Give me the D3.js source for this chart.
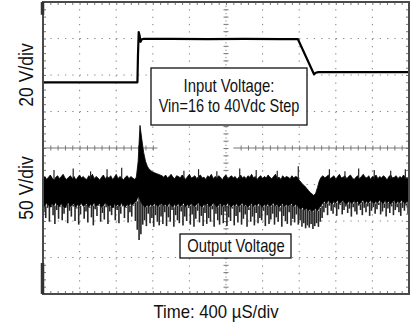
<!DOCTYPE html>
<html>
<head>
<meta charset="utf-8">
<script src="https://cdn.jsdelivr.net/npm/d3@7"></script>
<style>
  body { margin: 0; background: #fff; }
  svg { display: block; }
  text { font-family: "Liberation Sans", Arial, sans-serif; fill: #111; }
</style>
</head>
<body>
<svg id="scope" width="416" height="330"></svg>
<script>
// Sweep: 10 divisions at 400 µs/div
const timeMajor = d3.range(0, 4001, 400);
const timeMinor = d3.range(0, 4001, 80);
// Vertical graticule in divisions (8 divisions)
const divMajor = d3.range(-4, 4.001, 1);
const divMinor = d3.range(-4, 4.001, 0.2);

// Channel 1: input voltage step (µs, V) at 20 V/div
const inTime = [0, 1032, 1038, 1046, 1056, 1066, 1080, 1100, 1400, 1800, 2200, 2600, 2785, 2962, 2980, 3010, 3200, 3600, 4000];
const inVolt = [16, 16, 31, 43.5, 41.5, 38.2, 39.6, 39.8, 39.8, 39.7, 39.8, 39.7, 39.7, 20.4, 21.2, 21.6, 21.6, 21.6, 21.6];

// Channel 2: output voltage (50 V/div), dense trace envelope sampled every 20 µs
const outStep = 20;
const outHigh = [
  158,161,157,160,163,159,156,160,162,158,
  161,164,159,157,160,162,158,161,156,160,
  163,159,161,158,157,162,160,164,158,161,
  159,156,160,163,158,161,159,162,157,160,
  164,158,161,159,156,160,162,158,161,159,
  157,160,
  182,231,212,194,182,175,171,169,167,166,165,164,163,
  162,160,163,159,161,164,160,158,162,161,
  159,163,160,157,161,164,159,160,162,158,
  161,163,159,160,157,162,160,164,158,161,
  159,162,160,156,161,163,158,160,162,159,
  161,157,160,163,159,161,158,162,160,164,
  159,161,157,160,162,158,161,159,163,160,
  158,161,164,159,160,157,162,159,161,160,
  158,162,159,161,
  160,156,153,150,148,145,142,139,137,135,138,146,155,160,
  162,159,161,163,158,160,162,157,161,164,
  159,160,162,158,161,163,159,157,160,162,
  158,161,164,160,159,162,157,161,160,163,
  158,161,159,162,160,156,161,163,159,160,
  162,158,161,159,163,160,158,161
];
const outLow = [
  123,120,125,122,119,124,121,126,122,120,
  124,121,118,123,125,120,122,124,119,123,
  121,125,120,122,124,119,123,121,126,120,
  122,124,119,121,125,123,120,122,118,124,
  121,123,120,125,122,119,123,121,124,122,
  125,127,
  134,130,124,121,119,122,120,123,121,124,122,120,123,
  124,121,123,120,125,122,119,123,121,124,
  120,122,125,119,123,121,124,122,120,123,
  125,121,119,123,122,124,120,121,125,123,
  119,122,124,120,123,121,125,122,119,123,
  121,124,120,122,125,121,123,119,122,124,
  120,123,121,125,122,119,123,121,124,120,
  122,125,121,123,119,122,124,120,123,121,
  122,124,120,123,
  121,118,116,119,115,117,114,116,113,115,117,114,118,121,
  125,127,124,128,126,123,127,125,129,124,
  126,128,125,123,127,126,124,128,125,127,
  123,126,129,124,127,125,128,126,124,127,
  125,129,126,124,128,125,127,123,126,128,
  124,127,125,129,126,124,127,125
];
// Lowest excursion of the noise between samples (midway, every 20 µs)
const outFringe = [
  112,104,118,99,121,108,96,115,103,119,
  101,110,123,97,114,106,120,100,117,95,
  109,122,103,113,98,118,105,94,116,107,
  121,99,111,102,119,96,113,108,124,101,
  115,97,110,120,104,118,98,112,106,121,
  100,88,
  74,82,95,101,93,110,97,104,92,108,99,94,106,
  96,112,93,105,99,115,92,108,101,97,
  113,94,106,100,118,95,109,92,103,114,
  98,107,93,111,96,104,99,116,92,110,
  101,95,108,97,113,93,105,100,117,94,
  107,98,112,95,103,109,92,115,99,106,
  94,111,97,104,101,114,93,108,96,102,
  110,95,105,99,113,92,107,100,96,112,
  94,103,98,109,
  95,101,92,97,90,94,91,96,89,93,97,92,99,104,
  112,118,108,121,114,110,119,107,116,122,
  109,115,120,111,117,106,119,113,109,121,
  115,108,118,112,120,107,114,119,110,116,
  122,109,113,118,106,117,111,120,108,115,
  119,112,107,118,114,121,110
];
// Isolated upward noise peaks (µs, V)
const peakTime = [120, 330, 520, 700, 860, 1540, 1700, 1900, 2150, 2330, 2560, 2790, 3130, 3300, 3450, 3620, 3800, 3960];
const peakVolt = [170, 172, 168, 171, 173, 169, 171, 168, 172, 170, 169, 175, 171, 168, 172, 170, 169, 171];

const labelIn = ["Input Voltage:", "Vin=16 to 40Vdc Step"];
const labelOut = "Output Voltage";
const labelCh1 = "20 V/div";
const labelCh2 = "50 V/div";
const labelTime = "Time: 400 \u00b5S/div";

const svg = d3.select("#scope");
const L = 43, R = 409, T = 2, B = 294;

const x = d3.scaleLinear().domain([0, 4000]).range([L, R]);
const yDiv = d3.scaleLinear().domain([-4, 4]).range([B, T]);
const yIn = d3.scaleLinear().domain([-100, 60]).range([B, T]);   // 20 V/div, zero at +1 div
const yOut = d3.scaleLinear().domain([0, 400]).range([B, T]);    // 50 V/div, zero at bottom

// Narrow lettering: a sans face compressed horizontally
function label(g, str, tx, ty, size, sx, rot) {
  return g.append("text")
    .attr("transform", `translate(${tx},${ty})${rot ? " rotate(" + rot + ")" : ""} scale(${sx},1)`)
    .attr("text-anchor", "middle").attr("font-size", size).text(str);
}

// Dotted graticule
const grid = svg.append("g").attr("stroke", "#8a8a8a").attr("stroke-width", 1.1)
  .attr("stroke-dasharray", "1.3,6.02");
grid.selectAll("line.v").data(timeMajor.filter(t => t > 0 && t < 4000 && t !== 2000))
  .join("line").attr("x1", d => x(d)).attr("x2", d => x(d)).attr("y1", T).attr("y2", B);
grid.selectAll("line.h").data(divMajor.filter(d => d > -4 && d < 4 && d !== 0))
  .join("line").attr("class", "h").attr("x1", L).attr("x2", R).attr("y1", d => yDiv(d)).attr("y2", d => yDiv(d));

// Centre axes with minor ticks
const cx = svg.append("g").attr("transform", `translate(0,${yDiv(0) - 2.5})`)
  .call(d3.axisBottom(x).tickValues(timeMinor.filter(t => t < 1250 || t > 2080)).tickSize(5).tickFormat(""));
cx.select(".domain").remove();
svg.append("g").attr("stroke", "#777").attr("stroke-width", 1)
  .selectAll("line").data([[0, 1250], [2080, 4000]]).join("line")
  .attr("x1", d => x(d[0])).attr("x2", d => x(d[1])).attr("y1", yDiv(0)).attr("y2", yDiv(0));
const cy = svg.append("g").attr("transform", `translate(${x(2000) - 2.5},0)`)
  .call(d3.axisRight(yDiv).tickValues(divMinor).tickSize(5).tickFormat(""));
cy.select(".domain").remove();
svg.append("line").attr("stroke", "#8a8a8a").attr("stroke-dasharray", "1.3,2.36")
  .attr("x1", x(2000)).attr("x2", x(2000)).attr("y1", T).attr("y2", B);

// Frame ticks pointing inward
const ft = [
  svg.append("g").attr("transform", `translate(0,${T})`).call(d3.axisBottom(x).tickValues(timeMinor).tickSize(3).tickFormat("")),
  svg.append("g").attr("transform", `translate(0,${B})`).call(d3.axisTop(x).tickValues(timeMinor).tickSize(3).tickFormat("")),
  svg.append("g").attr("transform", `translate(${L},0)`).call(d3.axisRight(yDiv).tickValues(divMinor).tickSize(3).tickFormat("")),
  svg.append("g").attr("transform", `translate(${R},0)`).call(d3.axisLeft(yDiv).tickValues(divMinor).tickSize(3).tickFormat(""))
];
ft.forEach(g => g.select(".domain").remove());
svg.selectAll(".tick line").attr("stroke", "#777");

// Output trace: noise fringe, dense band, upward peaks
const outT = outHigh.map((_, i) => i * outStep);
svg.append("g").attr("stroke", "#262626").attr("stroke-width", 1.6)
  .selectAll("line").data(outFringe).join("line")
  .attr("x1", (d, i) => x(i * outStep + outStep / 2)).attr("x2", (d, i) => x(i * outStep + outStep / 2))
  .attr("y1", (d, i) => yOut(outLow[i])).attr("y2", d => yOut(d));
svg.append("path")
  .attr("d", d3.area().x((d, i) => x(outT[i])).y0((d, i) => yOut(outLow[i])).y1(d => yOut(d))(outHigh))
  .attr("fill", "#000").attr("stroke", "#000").attr("stroke-width", 0.8);
svg.append("g").attr("stroke", "#222").attr("stroke-width", 1.2)
  .selectAll("line").data(peakTime).join("line")
  .attr("x1", d => x(d)).attr("x2", d => x(d))
  .attr("y1", yOut(158)).attr("y2", (d, i) => yOut(peakVolt[i]));

// Input trace
svg.append("path")
  .attr("d", d3.line().x(d => x(d)).y((d, i) => yIn(inVolt[i]))(inTime))
  .attr("fill", "none").attr("stroke", "#000").attr("stroke-width", 2.2).attr("stroke-linejoin", "round");

// Frame with channel ground markers
svg.append("rect").attr("x", L).attr("y", T).attr("width", R - L).attr("height", B - T)
  .attr("fill", "none").attr("stroke", "#4a4a4a").attr("stroke-width", 2);
svg.append("g").attr("stroke", "#333").attr("stroke-width", 3.5)
  .selectAll("line").data([[4, 3.65], [-3.15, -4]]).join("line")
  .attr("x1", L - 0.5).attr("x2", L - 0.5).attr("y1", d => yDiv(d[0])).attr("y2", d => yDiv(d[1]));

// Annotation boxes
const boxIn = svg.append("g");
boxIn.append("rect").attr("x", 151).attr("y", 68).attr("width", 156).attr("height", 57)
  .attr("fill", "#fff").attr("stroke", "#111").attr("stroke-width", 1.3);
label(boxIn, labelIn[0], 229, 91.5, 17.5, 0.85);
label(boxIn, labelIn[1], 229, 111.5, 17.5, 0.83);

const boxOut = svg.append("g");
boxOut.append("rect").attr("x", 180).attr("y", 234).attr("width", 111).attr("height", 24)
  .attr("fill", "#fff").attr("stroke", "#111").attr("stroke-width", 1.3);
label(boxOut, labelOut, 236, 251.5, 18, 0.82);

// Axis captions
label(svg, labelCh1, 33, 75, 19.5, 0.9, -90);
label(svg, labelCh2, 33, 188, 19.5, 0.9, -90);
label(svg, labelTime, 216, 318, 18.5, 0.905);
</script>
</body>
</html>
